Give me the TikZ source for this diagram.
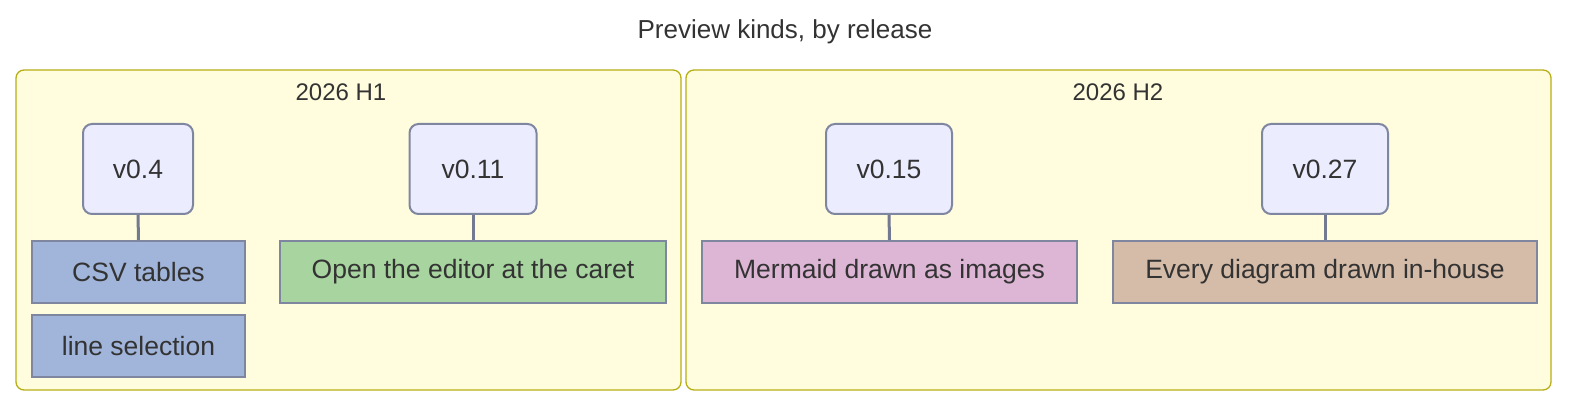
\documentclass[tikz,border=0pt]{standalone}
\usepackage{fontspec}
\setmainfont{Liberation Sans}
\begin{document}
\begin{tikzpicture}[x=1pt,y=-1pt,
 sec/.style={draw=black!20!yellow!60!olive,fill=yellow!13,line width=1.3pt,rounded corners=8pt},
 ver/.style={draw=ln,fill=vf,line width=2pt,rounded corners=9pt,minimum width=110pt,minimum height=90pt,font=\fontsize{26.5}{30}\selectfont,text=txt},
 ev/.style={draw=ln,line width=2pt,minimum height=62pt,font=\fontsize{26.5}{30}\selectfont,text=txt},
 con/.style={draw=ln!90!black,line width=3pt}]
\definecolor{ln}{HTML}{7F86A0}
\definecolor{vf}{HTML}{ECECFF}
\definecolor{txt}{HTML}{333333}
\definecolor{c1}{HTML}{A1B4DA}
\definecolor{c2}{HTML}{A8D4A0}
\definecolor{c3}{HTML}{DDB5D5}
\definecolor{c4}{HTML}{D5BCA8}
\useasboundingbox (0,0) rectangle (1580,411);
\node[font=\fontsize{26}{30}\selectfont,text=txt] (title) at (785,32) {Preview kinds, by release};
\draw[sec] (16,70) rectangle (681,390);
\draw[sec] (686,70) rectangle (1551,390);
\node[font=\fontsize{24}{28}\selectfont,text=txt] (s1) at (341,92) {2026 H1};
\node[font=\fontsize{24}{28}\selectfont,text=txt] (s2) at (1118,92) {2026 H2};
\node[ver,minimum width=110pt] (v1) at (138,169) {v0.4};
\node[ver,minimum width=127pt] (v2) at (473,169) {v0.11};
\node[ver,minimum width=126pt] (v3) at (889,169) {v0.15};
\node[ver,minimum width=126pt] (v4) at (1325,169) {v0.27};
\node[ev,fill=c1,minimum width=213pt] (e1) at (138.5,272) {CSV tables};
\node[ev,fill=c1,minimum width=213pt] (e2) at (138.5,346) {line selection};
\node[ev,fill=c2,minimum width=386pt] (e3) at (473,272) {Open the editor at the caret};
\node[ev,fill=c3,minimum width=375pt] (e4) at (889.5,272) {Mermaid drawn as images};
\node[ev,fill=c4,minimum width=424pt] (e5) at (1325,272) {Every diagram drawn in-house};
\draw[con] (v1.south) -- (e1.north);
\draw[con] (v2.south) -- (e3.north);
\draw[con] (v3.south) -- (e4.north);
\draw[con] (v4.south) -- (e5.north);
\end{tikzpicture}
\end{document}
